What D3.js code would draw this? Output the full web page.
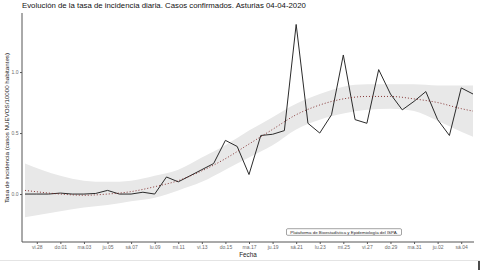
<!DOCTYPE html>
<html>
<head>
<meta charset="utf-8">
<script src="https://cdn.jsdelivr.net/npm/d3@7"></script>
<style>
  body { margin: 0; background: #fff; }
  svg { display: block; font-family: "Liberation Sans", Arial, sans-serif; }
</style>
</head>
<body>
<svg id="chart" width="480" height="270"></svg>
<script>
(function(){

// daily incidence, Feb 27 .. Apr 5 2020
let dates = ["2020-02-27","2020-02-28","2020-02-29","2020-03-01","2020-03-02","2020-03-03",
  "2020-03-04","2020-03-05","2020-03-06","2020-03-07","2020-03-08","2020-03-09","2020-03-10",
  "2020-03-11","2020-03-12","2020-03-13","2020-03-14","2020-03-15","2020-03-16","2020-03-17",
  "2020-03-18","2020-03-19","2020-03-20","2020-03-21","2020-03-22","2020-03-23","2020-03-24",
  "2020-03-25","2020-03-26","2020-03-27","2020-03-28","2020-03-29","2020-03-30","2020-03-31",
  "2020-04-01","2020-04-02","2020-04-03","2020-04-04","2020-04-05"];
let tasa = [0, 0, 0, 0.008, 0, 0, 0.005, 0.03, 0, 0, 0.015, 0, 0.14,
  0.10, 0.15, 0.20, 0.25, 0.44, 0.39, 0.16, 0.48, 0.49, 0.52, 1.39,
  0.58, 0.50, 0.65, 1.14, 0.61, 0.58, 1.02, 0.82, 0.69, 0.76,
  0.84, 0.61, 0.48, 0.87, 0.82];

// loess smooth and its confidence band (read at selected dates)
let smoothDates = ["2020-02-27","2020-03-01","2020-03-03","2020-03-05","2020-03-07","2020-03-09",
  "2020-03-11","2020-03-13","2020-03-15","2020-03-17","2020-03-19","2020-03-21","2020-03-23",
  "2020-03-25","2020-03-27","2020-03-29","2020-03-31","2020-04-02","2020-04-04","2020-04-05"];
let smoothFit = [0.03, 0.0, -0.01, 0.0, 0.02, 0.06, 0.11, 0.19, 0.29, 0.41, 0.53, 0.65, 0.73,
  0.78, 0.80, 0.80, 0.78, 0.75, 0.70, 0.68];
let smoothLow = [-0.19, -0.14, -0.11, -0.09, -0.06, -0.03, 0.03, 0.10, 0.20, 0.30, 0.40, 0.53, 0.61,
  0.66, 0.69, 0.70, 0.68, 0.60, 0.51, 0.47];
let smoothHigh = [0.25, 0.15, 0.11, 0.10, 0.11, 0.15, 0.20, 0.30, 0.40, 0.52, 0.63, 0.74, 0.82,
  0.88, 0.90, 0.90, 0.90, 0.89, 0.89, 0.89];

let tickDates = ["2020-02-28","2020-03-01","2020-03-03","2020-03-05","2020-03-07","2020-03-09",
  "2020-03-11","2020-03-13","2020-03-15","2020-03-17","2020-03-19","2020-03-21","2020-03-23",
  "2020-03-25","2020-03-27","2020-03-29","2020-03-31","2020-04-02","2020-04-04"];
let tickLabels = ["vi.28","do.01","ma.03","ju.05","sá.07","lu.09","mi.11","vi.13","do.15","ma.17",
  "ju.19","sá.21","lu.23","mi.25","vi.27","do.29","ma.31","ju.02","sá.04"];
let yTicks = [0, 0.5, 1.0];

let parseDate = d3.utcParse("%Y-%m-%d");

let data = dates.map((d, i) => ({time: parseDate(d), v: tasa[i]}));
let smooth = smoothDates.map((d, i) => ({time: parseDate(d), fit: smoothFit[i], lo: smoothLow[i], hi: smoothHigh[i]}));
let ticks = tickDates.map(parseDate);

let svg = d3.select("#chart");

let x = d3.scaleUtc()
  .domain([parseDate("2020-02-27"), parseDate("2020-04-05")])
  .range([25, 473]);
let y = d3.scaleLinear()
  .domain([-0.393, 1.484])
  .range([242, 13]);

// confidence band
svg.append("path")
  .datum(smooth)
  .attr("fill", "#e8e8e8")
  .attr("d", d3.area()
    .curve(d3.curveMonotoneX)
    .x(d => x(d.time))
    .y0(d => y(d.lo))
    .y1(d => y(d.hi)));

// daily line
svg.append("path")
  .datum(data)
  .attr("fill", "none")
  .attr("stroke", "#2b2b2b")
  .attr("stroke-width", 1)
  .attr("d", d3.line().x(d => x(d.time)).y(d => y(d.v)));

// smooth
svg.append("path")
  .datum(smooth)
  .attr("fill", "none")
  .attr("stroke", "#7a2424")
  .attr("stroke-width", 0.9)
  .attr("stroke-dasharray", "1,2")
  .attr("d", d3.line().curve(d3.curveMonotoneX).x(d => x(d.time)).y(d => y(d.fit)));

// x axis
let xAxis = svg.append("g")
  .attr("transform", "translate(0,242)")
  .call(d3.axisBottom(x).tickValues(ticks).tickSize(2).tickPadding(1.5)
    .tickFormat((d, i) => tickLabels[i]));
xAxis.select(".domain").attr("d", "M22,0H474").attr("stroke", "#555");
xAxis.selectAll(".tick line").attr("stroke", "#555");
xAxis.selectAll(".tick text").attr("fill", "#6b6b6b").attr("font-size", 5)
  .attr("font-family", "Liberation Sans, Arial, sans-serif");

// y axis
let yAxis = svg.append("g")
  .attr("transform", "translate(22,0)")
  .call(d3.axisLeft(y).tickValues(yTicks).tickSize(2).tickPadding(1.5)
    .tickFormat(d3.format(".1f")));
yAxis.select(".domain").attr("d", "M0,13V242").attr("stroke", "#555");
yAxis.selectAll(".tick line").attr("stroke", "#555");
yAxis.selectAll(".tick text").attr("fill", "#6b6b6b").attr("font-size", 5)
  .attr("font-family", "Liberation Sans, Arial, sans-serif");

// title
svg.append("text")
  .attr("x", 22)
  .attr("y", 8)
  .attr("font-size", 7.8)
  .attr("fill", "#111")
  .text("Evolución de la tasa de incidencia diaria. Casos confirmados. Asturias 04-04-2020");

// axis titles
svg.append("text")
  .attr("x", 248)
  .attr("y", 256.5)
  .attr("text-anchor", "middle")
  .attr("font-size", 6.3)
  .attr("fill", "#222")
  .text("Fecha");

svg.append("text")
  .attr("transform", "translate(8.5,128) rotate(-90)")
  .attr("text-anchor", "middle")
  .attr("font-size", 6.2)
  .attr("fill", "#222")
  .text("Tasa de incidencia (casos NUEVOS/10000 habitantes)");

// caption label
let cap = svg.append("g").attr("transform", "translate(344,232)");
cap.append("rect")
  .attr("x", -57.5).attr("y", -3.3)
  .attr("width", 115).attr("height", 6.6)
  .attr("rx", 1.2)
  .attr("fill", "#fff")
  .attr("stroke", "#666")
  .attr("stroke-width", 0.6);
cap.append("text")
  .attr("y", 1.6)
  .attr("text-anchor", "middle")
  .attr("font-size", 4.4)
  .attr("fill", "#222")
  .text("Plataforma de Bioestadística y Epidemiología del ISPA.");

// window edge below the plot
svg.append("line")
  .attr("x1", 0).attr("x2", 480)
  .attr("y1", 260.5).attr("y2", 260.5)
  .attr("stroke", "#e4e4e4");
svg.append("line")
  .attr("x1", 479).attr("x2", 479)
  .attr("y1", 261).attr("y2", 270)
  .attr("stroke", "#111")
  .attr("stroke-width", 1.5);

})();
</script>
</body>
</html>
